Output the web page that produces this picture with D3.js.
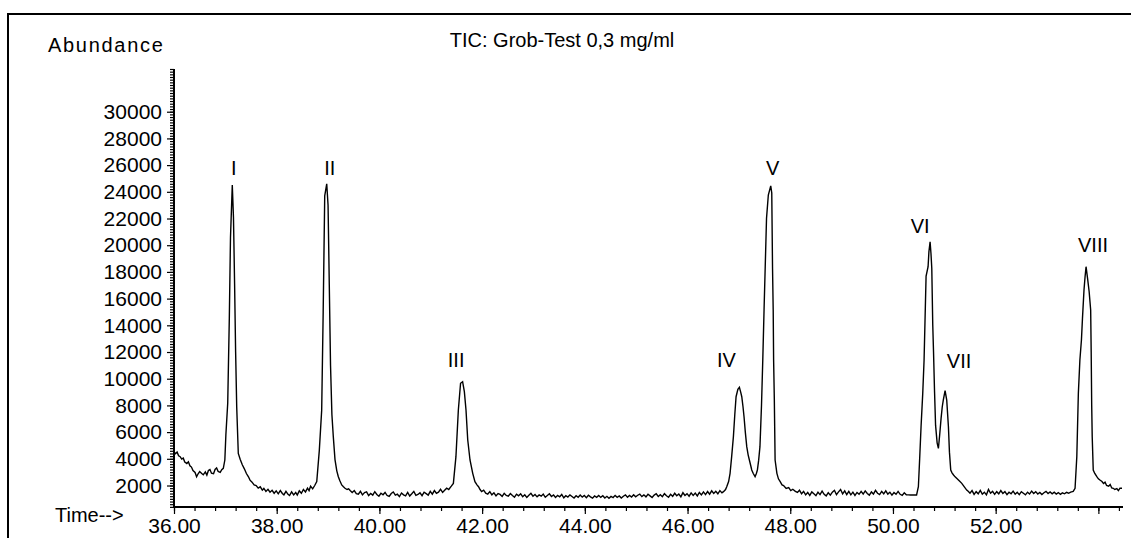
<!DOCTYPE html>
<html>
<head>
<meta charset="utf-8">
<script src="https://cdn.jsdelivr.net/npm/d3@7"></script>
<style>
  html, body { margin: 0; padding: 0; background: #fff; }
  svg { display: block; }
  text { font-family: "Liberation Sans", Arial, sans-serif; fill: #000; }
</style>
</head>
<body>
<svg id="chart" width="1131" height="538"></svg>
<script>
// ---- Data -------------------------------------------------------------
const chartTitle = "TIC: Grob-Test 0,3 mg/ml";
const yAxisTitle = "Abundance";
const xAxisTitle = "Time-->";

// Total ion current: [retention time (min), abundance]
const ticTrace = [
  [36.00,4530],[36.03,4380],[36.06,4500],[36.09,4220],[36.12,4160],[36.15,3980],[36.18,4050],[36.21,3760],
  [36.25,3650],[36.28,3780],[36.31,3480],[36.34,3380],[36.37,3120],[36.41,2980],[36.44,2660],[36.47,2880],
  [36.50,3050],[36.54,2900],[36.57,2800],[36.61,3020],[36.64,2780],[36.67,3120],[36.70,3200],[36.73,2920],
  [36.77,2880],[36.80,3200],[36.83,3320],[36.86,3050],[36.90,2980],[36.93,3180],[36.96,3290],[36.99,3910],
  [37.01,5780],[37.046,8160],
  [37.077,14500],[37.10,20600],[37.135,24500],[37.158,22100],[37.18,17100],[37.20,12000],[37.221,7900],
  [37.252,4400],[37.29,3950],[37.33,3550],[37.37,3250],[37.41,2900],[37.45,2650],[37.48,2400],
  [37.52,2250],[37.56,2050],[37.60,2000],[37.64,1800],[37.68,1900],[37.72,1650],[37.75,1780],[37.79,1560],
  [37.83,1720],[37.87,1500],[37.91,1640],[37.95,1420],[37.99,1600],[38.03,1380],[38.07,1620],[38.11,1400],
  [38.14,1300],[38.18,1560],[38.22,1340],[38.25,1250],[38.29,1520],[38.33,1300],[38.37,1480],[38.40,1280],
  [38.44,1600],[38.48,1420],[38.52,1700],[38.56,1520],[38.60,1800],[38.63,1620],[38.66,1950],[38.70,1750],
  [38.74,2000],[38.78,2290],
  [38.83,4650],[38.876,7650],[38.905,15000],[38.935,23700],[38.974,24600],[39.00,23000],
  [39.024,17000],[39.048,11000],[39.075,7300],[39.102,5660],[39.135,3940],[39.17,3100],[39.20,2660],
  [39.23,2350],[39.266,2040],[39.30,1900],[39.33,1790],[39.37,1700],[39.40,1750],[39.43,1620],
  [39.47,1480],[39.51,1620],[39.55,1390],[39.59,1350],[39.63,1560],[39.67,1300],[39.71,1470],[39.75,1520],
  [39.79,1250],[39.83,1400],[39.87,1280],[39.91,1540],[39.95,1330],[39.99,1200],[40.03,1420],[40.07,1310],
  [40.11,1480],[40.15,1250],[40.19,1190],[40.23,1400],[40.27,1520],[40.31,1280],[40.35,1350],[40.39,1170],
  [40.43,1440],[40.47,1300],[40.51,1230],[40.55,1480],[40.59,1210],[40.63,1380],[40.67,1560],[40.71,1260],
  [40.75,1330],[40.79,1450],[40.83,1240],[40.87,1500],[40.91,1390],[40.95,1280],[40.99,1560],[41.03,1350],
  [41.07,1620],[41.11,1420],[41.15,1500],[41.19,1720],[41.23,1480],[41.27,1650],[41.31,1800],[41.35,1700],
  [41.40,1950],[41.44,2160],[41.49,4160],[41.537,7660],[41.58,9660],[41.62,9780],[41.654,9030],[41.686,7660],
  [41.72,5410],[41.764,3910],[41.817,2910],[41.86,2290],[41.90,2050],[41.93,1910],[41.96,1700],[41.99,1540],
  [42.03,1650],[42.07,1420],
  [42.11,1360],[42.15,1540],[42.19,1300],[42.23,1450],[42.27,1220],[42.31,1400],[42.35,1330],[42.39,1180],
  [42.43,1420],[42.47,1260],[42.51,1200],[42.55,1400],[42.59,1250],[42.63,1120],[42.67,1350],[42.71,1230],
  [42.75,1380],[42.79,1160],[42.83,1300],[42.87,1110],[42.91,1270],[42.95,1420],[42.99,1200],[43.03,1330],
  [43.07,1150],[43.11,1290],[43.15,1200],[43.19,1360],[43.23,1120],[43.27,1250],[43.31,1380],[43.35,1180],
  [43.39,1290],[43.43,1100],[43.47,1260],[43.51,1160],[43.55,1330],[43.59,1080],[43.63,1240],[43.67,1140],
  [43.71,1300],[43.75,1180],[43.79,1060],[43.83,1230],[43.87,1120],[43.91,1290],[43.95,1130],[43.99,1250],
  [44.03,1090],[44.07,1270],[44.11,1150],[44.15,1050],[44.19,1220],[44.23,1120],[44.27,1260],[44.31,1110],
  [44.35,1230],[44.39,1060],[44.43,1190],[44.47,1040],[44.51,1180],[44.55,1100],[44.59,1260],[44.63,1120],
  [44.67,1220],[44.71,1060],[44.75,1200],[44.79,1300],[44.83,1120],[44.87,1260],[44.91,1140],[44.95,1310],
  [44.99,1150],[45.03,1270],[45.07,1360],[45.11,1170],[45.15,1300],[45.19,1150],[45.23,1340],[45.27,1220],
  [45.31,1100],[45.35,1280],[45.39,1380],[45.43,1180],[45.47,1310],[45.51,1160],[45.55,1390],[45.59,1230],
  [45.63,1120],[45.67,1340],[45.71,1190],[45.75,1420],[45.79,1230],[45.83,1360],[45.87,1150],[45.91,1460],
  [45.95,1250],[45.99,1390],[46.03,1200],[46.07,1450],[46.11,1260],[46.15,1430],[46.19,1220],[46.23,1480],
  [46.27,1300],[46.31,1520],[46.35,1320],[46.39,1550],[46.43,1350],[46.47,1600],[46.51,1400],[46.55,1560],
  [46.59,1380],[46.63,1620],[46.67,1450],[46.70,1540],
  [46.74,1700],[46.763,1910],[46.80,2300],[46.828,2910],[46.86,4200],[46.893,5660],[46.92,7300],[46.945,8650],
  [46.98,9200],[47.01,9360],[47.035,9000],[47.056,8650],[47.08,7900],[47.10,7150],[47.125,6000],[47.153,4910],
  [47.18,4300],[47.204,3910],[47.23,3500],[47.25,3160],[47.28,2900],[47.315,2660],[47.34,2900],[47.36,3160],
  [47.385,3900],[47.41,4910],[47.44,8000],[47.465,11400],[47.49,15160],[47.538,22020],[47.573,23760],
  [47.62,24440],[47.64,23910],[47.655,18270],[47.668,15150],[47.676,11400],[47.69,8400],[47.705,3910],
  [47.74,2910],[47.77,2500],[47.804,2290],[47.84,2050],[47.87,2000],[47.92,1780],[47.97,1850],[48.01,1620],
  [48.05,1720],[48.10,1560],
  [48.14,1480],[48.18,1650],[48.22,1380],[48.26,1560],[48.30,1300],[48.34,1480],[48.38,1260],[48.42,1520],
  [48.46,1380],[48.50,1240],[48.54,1500],[48.58,1320],[48.62,1580],[48.66,1340],[48.70,1220],[48.74,1460],
  [48.78,1280],[48.82,1500],[48.86,1640],[48.90,1320],[48.94,1520],[48.98,1700],[49.02,1380],[49.06,1600],
  [49.10,1320],[49.14,1560],[49.18,1300],[49.22,1500],[49.26,1260],[49.30,1480],[49.34,1340],[49.38,1560],
  [49.42,1360],[49.46,1600],[49.50,1400],[49.54,1280],[49.58,1520],[49.62,1360],[49.66,1640],[49.70,1420],
  [49.74,1320],[49.78,1560],[49.82,1380],[49.86,1600],[49.90,1360],[49.94,1500],[49.98,1280],[50.02,1480],
  [50.06,1340],[50.10,1560],[50.14,1340],[50.18,1260],[50.22,1460],[50.26,1300],[50.30,1300],[50.34,1290],
  [50.38,1290],[50.42,1300],[50.46,1290],
  [50.495,1910],[50.52,4000],[50.547,6400],[50.58,8900],[50.606,11400],[50.645,17690],[50.684,18390],
  [50.70,19500],[50.723,20260],[50.74,19400],[50.756,18270],[50.775,14030],[50.79,12000],[50.81,9000],
  [50.83,6500],[50.86,5200],[50.885,4780],[50.91,5800],[50.937,7030],[50.96,7900],[50.98,8400],[51.015,9100],
  [51.047,8400],[51.08,6400],[51.10,4500],[51.125,3160],[51.15,2950],[51.18,2790],[51.21,2650],[51.24,2540],
  [51.29,2350],[51.34,2160],[51.39,1900],[51.436,1660],[51.47,1550],[51.50,1420],
  [51.54,1620],[51.58,1330],[51.62,1540],[51.66,1380],[51.70,1640],[51.74,1350],[51.78,1500],[51.82,1300],
  [51.86,1700],[51.90,1420],[51.94,1560],[51.98,1340],[52.02,1540],[52.06,1380],[52.10,1620],[52.14,1400],
  [52.18,1540],[52.22,1320],[52.26,1500],[52.30,1380],[52.34,1580],[52.38,1350],[52.42,1500],[52.46,1320],
  [52.50,1540],[52.54,1420],[52.58,1300],[52.62,1500],[52.66,1360],[52.70,1580],[52.74,1400],[52.78,1540],
  [52.82,1360],[52.86,1480],[52.90,1320],[52.94,1460],[52.98,1560],[53.02,1400],[53.06,1520],[53.10,1380],
  [53.14,1500],[53.18,1360],[53.22,1470],[53.26,1340],[53.30,1450],[53.34,1380],[53.38,1490],[53.42,1420],
  [53.46,1510],[53.51,1560],
  [53.546,1790],[53.58,4160],[53.61,8900],[53.64,11400],[53.67,12900],[53.69,14500],[53.72,16650],
  [53.74,17600],[53.76,18390],[53.79,17500],[53.82,16530],[53.85,15150],[53.86,12000],[53.87,8000],
  [53.88,5660],[53.90,3160],[53.93,2900],[53.97,2660],[54.00,2500],[54.03,2410],[54.07,2300],[54.10,2150],
  [54.13,2250],[54.16,2000],[54.20,1950],[54.23,2080],[54.26,1820],[54.29,1790],[54.32,1700],[54.36,1760],
  [54.39,1620],[54.42,1800],[54.46,1790]
];

// Peak identification (apex retention times)
const peakNames = ["I", "II", "III", "IV", "V", "VI", "VII", "VIII"];
const peakTimes = [37.135, 38.974, 41.62, 47.01, 47.62, 50.723, 51.015, 53.76];

// Axis ticks
const xTickLabels = [36, 38, 40, 42, 44, 46, 48, 50, 52];
const xTickAll = [36, 38, 40, 42, 44, 46, 48, 50, 52, 54];
const yTickLabels = [2000, 4000, 6000, 8000, 10000, 12000, 14000, 16000, 18000, 20000,
                     22000, 24000, 26000, 28000, 30000];

// ---- Layout -----------------------------------------------------------
const svg = d3.select("#chart");
const plot = { left: 174, right: 1122, top: 69, bottom: 507 };
const timeDomain = [36, 54.46];
const abundanceDomain = [390, 33200];
const fontFamily = "'Liberation Sans', Arial, sans-serif";

const x = d3.scaleLinear().domain(timeDomain).range([plot.left, plot.right]);
const y = d3.scaleLinear().domain(abundanceDomain).range([plot.bottom, plot.top]);

// Outer frame
svg.append("rect")
  .attr("x", 8).attr("y", 14)
  .attr("width", 1140).attr("height", 540)
  .attr("fill", "none").attr("stroke", "#000").attr("stroke-width", 2);

// Titles
svg.append("text").attr("x", 562).attr("y", 47)
  .attr("text-anchor", "middle").attr("font-size", 20)
  .text(chartTitle);
svg.append("text").attr("x", 48).attr("y", 52)
  .attr("font-size", 20).attr("letter-spacing", 1.7)
  .text(yAxisTitle);
svg.append("text").attr("x", 55).attr("y", 522)
  .attr("font-size", 20)
  .text(xAxisTitle);

// Y axis: fine ticks every 200, labelled ticks every 2000
const yMinor = d3.range(400, abundanceDomain[1] + 1, 200);
svg.append("g")
  .attr("transform", `translate(${plot.left},0)`)
  .call(d3.axisLeft(y).tickValues(yMinor).tickSize(4).tickFormat("").tickSizeOuter(0))
  .call(g => g.select(".domain").remove())
  .call(g => g.selectAll("line").attr("stroke", "#000").attr("stroke-width", 1.2));

svg.append("g")
  .attr("transform", `translate(${plot.left},0)`)
  .call(d3.axisLeft(y).tickValues(yTickLabels).tickSize(7).tickPadding(5)
        .tickFormat(d3.format("d")).tickSizeOuter(0))
  .call(g => g.select(".domain").remove())
  .call(g => g.selectAll("line").attr("stroke", "#000").attr("stroke-width", 1.2))
  .call(g => g.selectAll("text")
        .attr("font-family", fontFamily).attr("font-size", 21).attr("fill", "#000"));

// X axis: fine ticks every 0.4 min, labelled every 2 min
const xMinor = d3.range(36, timeDomain[1], 0.4).map(v => +v.toFixed(2));
svg.append("g")
  .attr("transform", `translate(0,${plot.bottom})`)
  .call(d3.axisBottom(x).tickValues(xMinor).tickSize(4).tickFormat("").tickSizeOuter(0))
  .call(g => g.select(".domain").remove())
  .call(g => g.selectAll("line").attr("stroke", "#000").attr("stroke-width", 1.2));

svg.append("g")
  .attr("transform", `translate(0,${plot.bottom})`)
  .call(d3.axisBottom(x).tickValues(xTickAll).tickSize(7).tickPadding(4)
        .tickFormat(d => xTickLabels.includes(d) ? d3.format(".2f")(d) : "").tickSizeOuter(0))
  .call(g => g.select(".domain").remove())
  .call(g => g.selectAll("line").attr("stroke", "#000").attr("stroke-width", 1.2))
  .call(g => g.selectAll("text")
        .attr("font-family", fontFamily).attr("font-size", 21).attr("fill", "#000"));

// Axis lines
svg.append("line")
  .attr("x1", plot.left).attr("x2", plot.left)
  .attr("y1", plot.top).attr("y2", plot.bottom + 1)
  .attr("stroke", "#000").attr("stroke-width", 2);
svg.append("line")
  .attr("x1", plot.left).attr("x2", plot.right + 1)
  .attr("y1", plot.bottom).attr("y2", plot.bottom)
  .attr("stroke", "#000").attr("stroke-width", 2);

// Chromatogram trace
const line = d3.line().x(d => x(d[0])).y(d => y(d[1]));
svg.append("path")
  .datum(ticTrace)
  .attr("d", line)
  .attr("fill", "none")
  .attr("stroke", "#000")
  .attr("stroke-width", 1.4)
  .attr("stroke-linejoin", "miter");

// Peak labels, placed above each apex
const labelDx = [1.5, 3, -6.5, -13, 2, -10, 14, 7];
const labelRise = [10, 9, 15, 20, 11, 9, 23, 15];
peakNames.forEach((name, i) => {
  const t = peakTimes[i];
  const apex = ticTrace.reduce((a, b) => Math.abs(b[0] - t) < Math.abs(a[0] - t) ? b : a);
  svg.append("text")
    .attr("x", x(apex[0]) + labelDx[i])
    .attr("y", y(apex[1]) - labelRise[i])
    .attr("text-anchor", "middle")
    .attr("font-size", 20)
    .text(name);
});
</script>
</body>
</html>
